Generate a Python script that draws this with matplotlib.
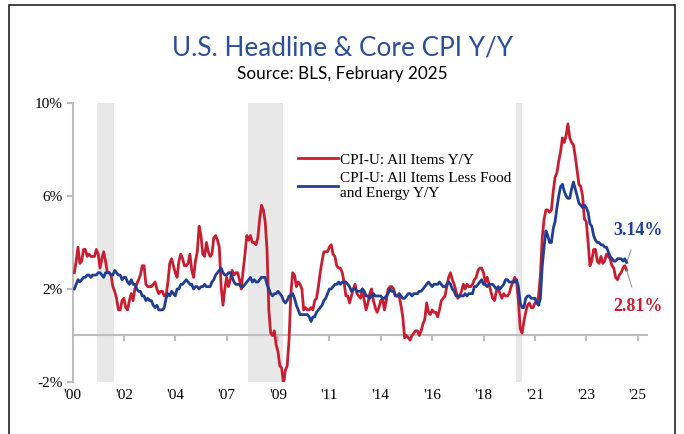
import matplotlib
matplotlib.use("Agg")
import matplotlib.pyplot as plt
import matplotlib.patches as mpatches
import numpy as np

# Monthly Y/Y % change, Jan 2000 .. Feb 2025
headline = [
    2.7, 3.2, 3.8, 3.1, 3.2, 3.7, 3.7, 3.4, 3.5, 3.4, 3.4, 3.4,   # 2000
    3.7, 3.5, 2.9, 3.3, 3.6, 3.2, 2.7, 2.7, 2.6, 2.1, 1.9, 1.6,   # 2001
    1.1, 1.1, 1.5, 1.6, 1.2, 1.1, 1.5, 1.8, 1.5, 2.0, 2.2, 2.4,   # 2002
    2.6, 3.0, 3.0, 2.2, 2.1, 2.1, 2.1, 2.2, 2.3, 2.0, 1.8, 1.9,   # 2003
    1.9, 1.7, 1.7, 2.3, 3.1, 3.3, 3.0, 2.7, 2.5, 3.2, 3.5, 3.3,   # 2004
    3.0, 3.0, 3.1, 3.5, 2.8, 2.5, 3.2, 3.6, 4.7, 4.3, 3.5, 3.4,   # 2005
    4.0, 3.6, 3.4, 3.5, 4.2, 4.3, 4.1, 3.8, 2.1, 1.3, 2.0, 2.5,   # 2006
    2.1, 2.4, 2.8, 2.6, 2.7, 2.7, 2.4, 2.0, 2.8, 3.5, 4.3, 4.1,   # 2007
    4.3, 4.0, 4.0, 3.9, 4.2, 5.0, 5.6, 5.4, 4.9, 3.7, 1.1, 0.1,   # 2008
    0.0, 0.2, -0.4, -0.7, -1.3, -1.4, -2.1, -1.5, -1.3, -0.2, 1.8, 2.7,  # 2009
    2.6, 2.1, 2.3, 2.2, 2.0, 1.1, 1.2, 1.1, 1.1, 1.2, 1.1, 1.5,   # 2010
    1.6, 2.1, 2.7, 3.2, 3.6, 3.6, 3.6, 3.8, 3.9, 3.5, 3.4, 3.0,   # 2011
    2.9, 2.9, 2.7, 2.3, 1.7, 1.7, 1.4, 1.7, 2.0, 2.2, 1.8, 1.7,   # 2012
    1.6, 2.0, 1.5, 1.1, 1.4, 1.8, 2.0, 1.5, 1.2, 1.0, 1.2, 1.5,   # 2013
    1.6, 1.1, 1.5, 2.0, 2.1, 2.1, 2.0, 1.7, 1.7, 1.7, 1.3, 0.8,   # 2014
    -0.1, 0.0, -0.1, -0.2, 0.0, 0.1, 0.2, 0.2, 0.0, 0.2, 0.5, 0.7,  # 2015
    1.4, 1.0, 0.9, 1.1, 1.0, 1.0, 0.8, 1.1, 1.5, 1.6, 1.7, 2.1,   # 2016
    2.5, 2.7, 2.4, 2.2, 1.9, 1.6, 1.7, 1.9, 2.2, 2.0, 2.2, 2.1,   # 2017
    2.1, 2.2, 2.4, 2.5, 2.8, 2.9, 2.9, 2.7, 2.3, 2.5, 2.2, 1.9,   # 2018
    1.6, 1.5, 1.9, 2.0, 1.8, 1.6, 1.8, 1.7, 1.7, 1.8, 2.1, 2.3,   # 2019
    2.5, 2.3, 1.5, 0.3, 0.1, 0.6, 1.0, 1.3, 1.4, 1.2, 1.2, 1.4,   # 2020
    1.4, 1.7, 2.6, 4.2, 5.0, 5.4, 5.4, 5.3, 5.4, 6.2, 6.8, 7.0,   # 2021
    7.5, 7.9, 8.5, 8.3, 8.6, 9.1, 8.5, 8.3, 8.2, 7.7, 7.1, 6.5,   # 2022
    6.4, 6.0, 5.0, 4.9, 4.0, 3.0, 3.2, 3.7, 3.7, 3.2, 3.1, 3.4,   # 2023
    3.1, 3.2, 3.5, 3.4, 3.3, 3.0, 2.9, 2.5, 2.4, 2.6, 2.7, 2.9,   # 2024
    3.0, 2.81,                                                    # 2025
]
core = [
    2.0, 2.2, 2.4, 2.3, 2.4, 2.5, 2.5, 2.6, 2.6, 2.5, 2.6, 2.6,   # 2000
    2.6, 2.7, 2.7, 2.6, 2.5, 2.7, 2.7, 2.7, 2.6, 2.6, 2.8, 2.7,   # 2001
    2.6, 2.6, 2.4, 2.5, 2.5, 2.3, 2.2, 2.4, 2.2, 2.2, 2.0, 1.9,   # 2002
    1.9, 1.7, 1.7, 1.5, 1.6, 1.5, 1.5, 1.3, 1.2, 1.3, 1.1, 1.1,   # 2003
    1.1, 1.2, 1.6, 1.8, 1.7, 1.9, 1.8, 1.7, 2.0, 2.0, 2.2, 2.2,   # 2004
    2.3, 2.4, 2.3, 2.2, 2.2, 2.0, 2.1, 2.1, 2.0, 2.1, 2.1, 2.2,   # 2005
    2.1, 2.1, 2.1, 2.3, 2.4, 2.6, 2.7, 2.8, 2.9, 2.7, 2.6, 2.6,   # 2006
    2.7, 2.7, 2.5, 2.3, 2.2, 2.2, 2.2, 2.1, 2.1, 2.2, 2.3, 2.4,   # 2007
    2.5, 2.3, 2.4, 2.3, 2.3, 2.4, 2.5, 2.5, 2.5, 2.2, 2.0, 1.8,   # 2008
    1.7, 1.8, 1.8, 1.9, 1.8, 1.7, 1.5, 1.4, 1.5, 1.7, 1.7, 1.8,   # 2009
    1.6, 1.3, 1.1, 0.9, 0.9, 0.9, 0.9, 0.9, 0.8, 0.6, 0.8, 0.8,   # 2010
    1.0, 1.1, 1.2, 1.3, 1.5, 1.6, 1.8, 2.0, 2.0, 2.1, 2.2, 2.2,   # 2011
    2.3, 2.2, 2.3, 2.3, 2.3, 2.2, 2.1, 1.9, 2.0, 2.0, 1.9, 1.9,   # 2012
    1.9, 2.0, 1.9, 1.7, 1.7, 1.6, 1.7, 1.8, 1.7, 1.7, 1.7, 1.7,   # 2013
    1.6, 1.6, 1.7, 1.8, 2.0, 1.9, 1.9, 1.7, 1.7, 1.8, 1.7, 1.6,   # 2014
    1.6, 1.7, 1.8, 1.8, 1.7, 1.8, 1.8, 1.8, 1.9, 1.9, 2.0, 2.1,   # 2015
    2.2, 2.3, 2.2, 2.1, 2.2, 2.2, 2.2, 2.3, 2.2, 2.1, 2.1, 2.2,   # 2016
    2.3, 2.2, 2.0, 1.9, 1.7, 1.7, 1.7, 1.7, 1.7, 1.8, 1.7, 1.8,   # 2017
    1.8, 1.8, 2.1, 2.1, 2.2, 2.3, 2.4, 2.2, 2.2, 2.1, 2.2, 2.2,   # 2018
    2.2, 2.1, 2.0, 2.1, 2.0, 2.1, 2.2, 2.4, 2.4, 2.3, 2.3, 2.3,   # 2019
    2.3, 2.4, 2.1, 1.4, 1.2, 1.2, 1.6, 1.7, 1.7, 1.6, 1.6, 1.6,   # 2020
    1.4, 1.3, 1.6, 3.0, 3.8, 4.5, 4.3, 4.0, 4.0, 4.6, 4.9, 5.5,   # 2021
    6.0, 6.4, 6.5, 6.2, 6.0, 5.9, 5.9, 6.3, 6.6, 6.3, 6.0, 5.7,   # 2022
    5.6, 5.5, 5.6, 5.5, 5.3, 4.8, 4.7, 4.3, 4.1, 4.0, 4.0, 3.9,   # 2023
    3.9, 3.8, 3.8, 3.6, 3.4, 3.3, 3.2, 3.2, 3.3, 3.3, 3.3, 3.2,   # 2024
    3.3, 3.14,                                                    # 2025
]
# recessions as (start, end) in months since Jan 2000
recessions = [(12.6, 21.8), (94.5, 113.5), (240.8, 244.0)]
tick_labels = ["'00", "'02", "'04", "'07", "'09", "'11", "'14", "'16",
               "'18", "'21", "'23", "'25"]

RED = "#C81E32"
BLUE = "#203F92"
TITLE_BLUE = "#2D4E9C"
GRID = "#BDBDBD"
SERIF = ["Liberation Serif", "DejaVu Serif"]

months = np.arange(len(headline))

fig = plt.figure(figsize=(6.84, 4.34), dpi=100)
ax = fig.add_axes([0.106, 0.1198, 0.841, 0.643])

for a, b in recessions:
    ax.axvspan(a, b, color="#E8E8E8", lw=0, zorder=0)

ax.axhline(0, color=GRID, lw=1.5, zorder=1)
ax.plot(months, headline, color=RED, lw=2.0, zorder=3,
        label="CPI-U: All Items Y/Y")
ax.plot(months, core, color=BLUE, lw=2.0, zorder=4,
        label="CPI-U: All Items Less Food\nand Energy Y/Y")

ax.set_xlim(-1, 312.5)
ax.set_ylim(-2, 10)
ax.set_yticks([-2, 2, 6, 10])
ax.set_yticklabels(["-2%", "2%", "6%", "10%"])
ticks = np.arange(len(tick_labels)) * 28 - 1
ax.set_xticks(ticks)
ax.set_xticklabels(tick_labels)
ax.tick_params(axis="x", length=0, pad=5)
ax.tick_params(axis="y", length=4, color=GRID, width=1.5, pad=3)
for lab in ax.get_xticklabels() + ax.get_yticklabels():
    lab.set_family(SERIF)
    lab.set_fontsize(11)

# small ticks hanging below the zero line
for t in ticks[1:]:
    ax.plot([t, t], [0, -0.2], color=GRID, lw=1.5, zorder=1, clip_on=False)

for s in ["top", "right", "bottom"]:
    ax.spines[s].set_visible(False)
ax.spines["left"].set_color(GRID)
ax.spines["left"].set_linewidth(1.5)

ax.legend(loc="upper left", bbox_to_anchor=(0.382, 0.843), frameon=False,
          prop={"family": SERIF, "size": 11}, handlelength=2.6,
          handletextpad=0.15, labelspacing=0.35, borderaxespad=0)

# end-point labels
last = len(headline) - 1
ax.annotate(f"{core[-1]:.2f}%", xy=(last, core[-1]), xytext=(last + 6, 4.5),
            color=BLUE, fontsize=13, fontweight="bold", family=SERIF,
            ha="center", va="center",
            arrowprops=dict(arrowstyle="-", color="#999999", lw=0.8,
                            shrinkA=6, shrinkB=0))
ax.annotate(f"{headline[-1]:.2f}%", xy=(last, headline[-1]), xytext=(last + 6, 1.25),
            color=RED, fontsize=13, fontweight="bold", family=SERIF,
            ha="center", va="center",
            arrowprops=dict(arrowstyle="-", color="#999999", lw=0.8,
                            shrinkA=6, shrinkB=0))

fig.text(0.5, 1 - 48 / 434, "U.S. Headline & Core CPI Y/Y", ha="center",
         va="center", fontsize=18.8, color=TITLE_BLUE, family="Lato")
fig.text(0.5, 1 - 74 / 434, "Source: BLS, February 2025", ha="center",
         va="center", fontsize=12.3, color="black", family="Lato")

# outer frame
fig.patches.append(mpatches.Rectangle((9 / 684, -0.1), 666 / 684, 1.1 - 5 / 434,
                                      transform=fig.transFigure, fill=False,
                                      ec="#222222", lw=1.2))

fig.savefig("out.png", dpi=100)
